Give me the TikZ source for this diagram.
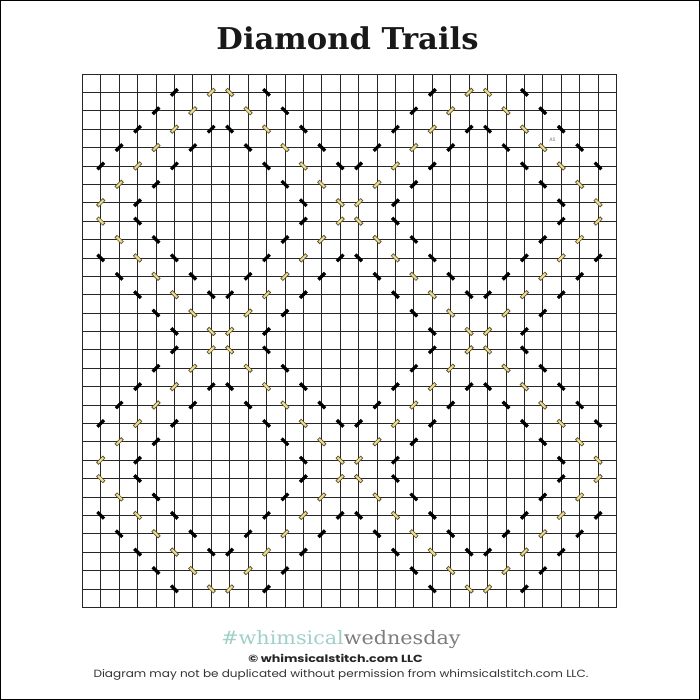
\documentclass[tikz,border=0pt]{standalone}
\usepackage{fontspec}
\usepackage{graphicx}
\newfontfamily\slabfont{DejaVu Serif}
\newfontfamily\gsans{Poppins}
\definecolor{gridc}{HTML}{262626}
\definecolor{goldfill}{HTML}{F0DC8E}
\definecolor{goldline}{HTML}{5E5434}
\definecolor{wteal}{HTML}{9FD0C7}
\definecolor{wgray}{HTML}{7C7C7C}
\begin{document}
\begin{tikzpicture}[x=1pt,y=-1pt,
  blkst/.style={line width=3.3pt, black},
  gldout/.style={line width=3.6pt, goldline},
  gldin/.style={line width=2pt, goldfill},
  gridline/.style={line width=0.8pt, gridc}]
\useasboundingbox (0,0) rectangle (700,700);
\draw[line width=1.2pt] (0.6,0.6) rectangle (699.4,699.4);
% grid
\foreach \k in {0,...,29}{
  \draw[gridline] ({82.3+18.42*\k},74) -- ({82.3+18.42*\k},607.3);
  \draw[gridline] (82.3,{74+18.39*\k}) -- (616.5,{74+18.39*\k});
}
% stitches
\foreach \i in {1,...,28}{
 \foreach \j in {1,...,28}{
  \pgfmathtruncatemacro\aa{mod(\i+\j-1,14)}
  \pgfmathtruncatemacro\bb{mod(\i-\j+28,14)}
  \ifnum\aa>7 \pgfmathtruncatemacro\aa{14-\aa}\fi
  \ifnum\bb>7 \pgfmathtruncatemacro\bb{14-\bb}\fi
  \pgfmathtruncatemacro\rr{max(\aa,\bb)}
  \pgfmathsetmacro\xx{82.3+18.42*\i}
  \pgfmathsetmacro\yy{74+18.39*\j}
  \ifnum\aa=\rr \def\sg{1}\else\def\sg{-1}\fi
  \ifnum\rr=5
    \draw[blkst] ({\xx-3.3},{\yy+3.3*\sg}) -- ({\xx+3.3},{\yy-3.3*\sg});
  \fi
  \ifnum\rr=7
    \draw[gldout] ({\xx-3.4},{\yy+3.4*\sg}) -- ({\xx+3.4},{\yy-3.4*\sg});
    \draw[gldin] ({\xx-2.7},{\yy+2.7*\sg}) -- ({\xx+2.7},{\yy-2.7*\sg});
  \fi
 }}
\node[font=\gsans\fontsize{5}{6}\selectfont, text=black!55, inner sep=0pt] (as) at (552.5,139.7) {AS};
% texts
\node[anchor=base, inner sep=0pt, font=\slabfont\bfseries\fontsize{30}{32}\selectfont, text=black!90] (title) at (347.5,50) {\scalebox{1.02}[1]{Diamond Trails}};
\node[anchor=base, inner sep=0pt, font=\slabfont\fontsize{18.5}{22}\selectfont] (tag) at (341,644) {\scalebox{1.12}[1]{\textcolor{wteal}{\#whimsical}\textcolor{wgray}{wednesday}}};
\node[anchor=base, inner sep=0pt, font=\gsans\bfseries\fontsize{10.3}{12}\selectfont, text=black!85] (copy) at (335.5,662.7) {\scalebox{1.23}[1]{© whimsicalstitch.com LLC}};
\node[anchor=base, inner sep=0pt, font=\gsans\fontsize{10.5}{12}\selectfont, text=black!80] (disc) at (341,677.3) {\scalebox{1.146}[1]{Diagram may not be duplicated without permission from whimsicalstitch.com LLC.}};
\end{tikzpicture}
\end{document}
